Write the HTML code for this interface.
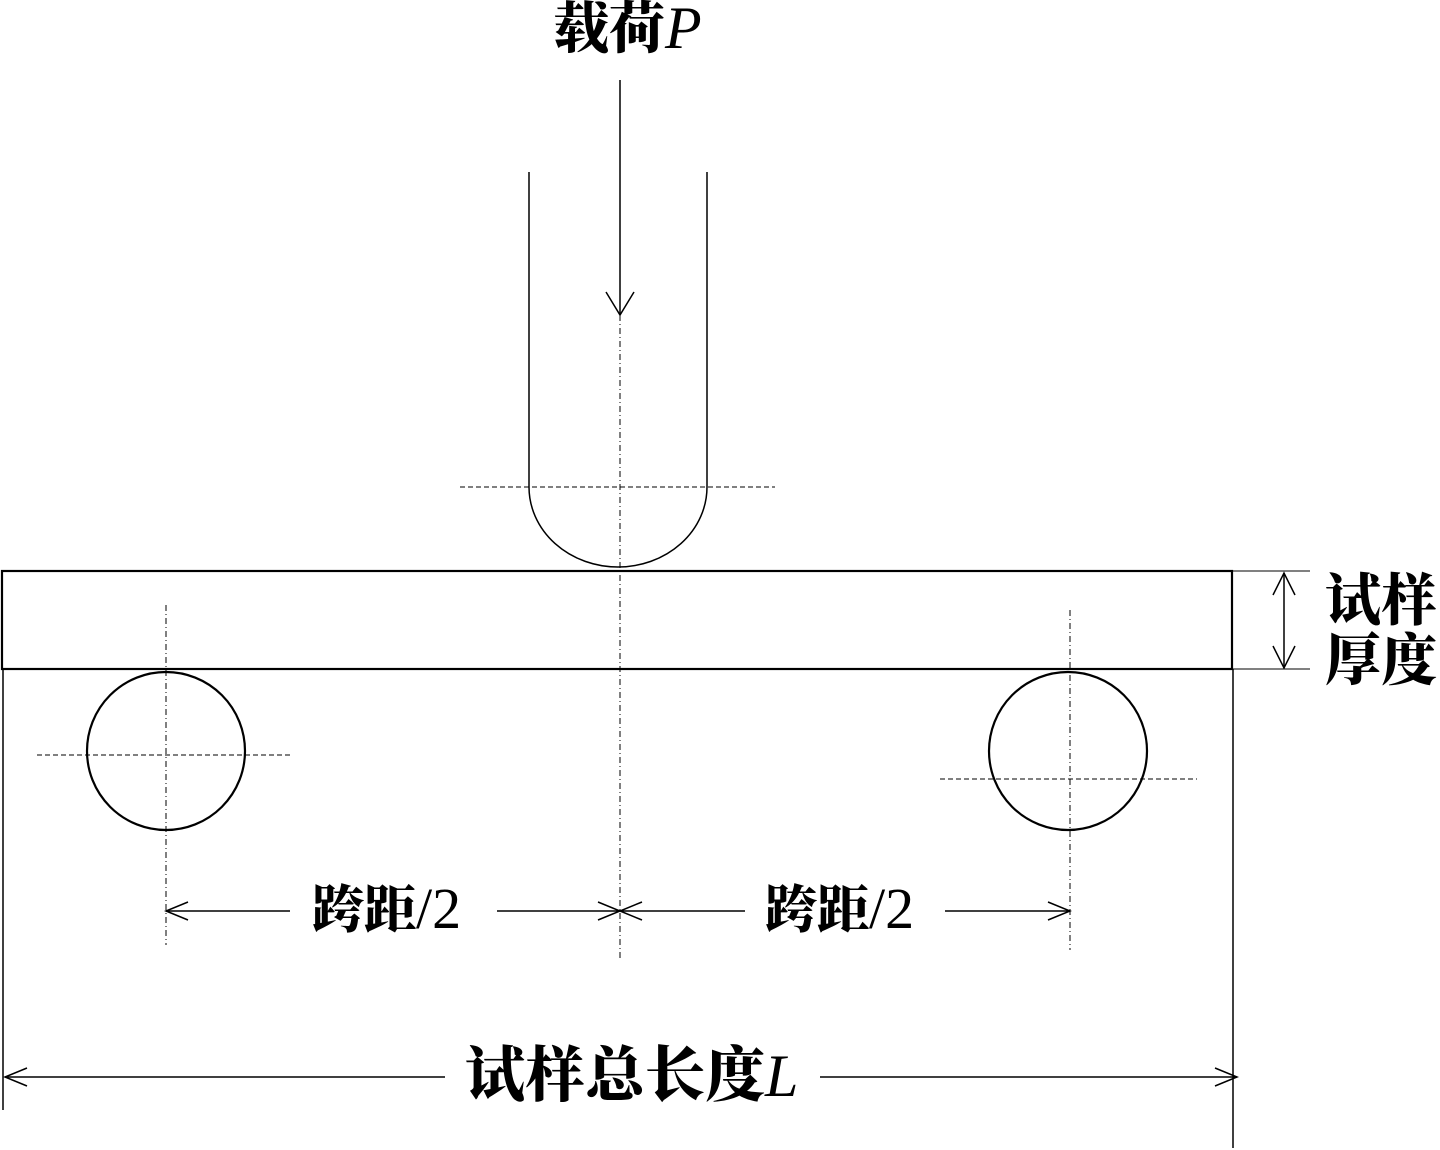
<!DOCTYPE html>
<html><head><meta charset="utf-8"><style>
html,body{margin:0;padding:0;background:#fff;}
svg{display:block;}
text{font-family:"Liberation Serif","Noto Serif CJK SC","Noto Sans CJK SC",serif;fill:#000;}
.c{font-family:"Noto Serif CJK SC","Noto Sans CJK SC",serif;font-weight:900;}
</style></head><body>
<svg width="1440" height="1150" viewBox="0 0 1440 1150" xmlns="http://www.w3.org/2000/svg">
<g stroke="#000" fill="none" stroke-width="1.5">
<line x1="620" y1="80" x2="620" y2="315"/>
<polyline points="606,292 620,315 634,292"/>
<line x1="620" y1="315" x2="620" y2="958" stroke-dasharray="6,3,1,3" stroke-width="1"/>
<path d="M529,172 L529,487 A89,80 0 0 0 707,487 L707,172"/>
<line x1="460" y1="487" x2="775" y2="487" stroke-dasharray="5,3" stroke-width="1"/>
<rect x="2" y="571" width="1230" height="98" stroke-width="2.2"/>
<line x1="3" y1="669" x2="3" y2="1110"/>
<line x1="1233" y1="669" x2="1233" y2="1148"/>
<circle cx="166" cy="751" r="79" stroke-width="2.2"/>
<circle cx="1068" cy="751" r="79" stroke-width="2.2"/>
<line x1="166" y1="605" x2="166" y2="945" stroke-dasharray="6,3,1,3" stroke-width="1"/>
<line x1="37" y1="755" x2="292" y2="755" stroke-dasharray="5,3" stroke-width="1"/>
<line x1="1070" y1="610" x2="1070" y2="950" stroke-dasharray="6,3,1,3" stroke-width="1"/>
<line x1="940" y1="779" x2="1197" y2="779" stroke-dasharray="5,3" stroke-width="1"/>
<line x1="166" y1="911" x2="290" y2="911"/>
<polyline points="188,902 166,911 188,920"/>
<line x1="497" y1="911" x2="745" y2="911"/>
<polyline points="598,902 620,911 598,920"/>
<polyline points="642,902 620,911 642,920"/>
<line x1="945" y1="911" x2="1070" y2="911"/>
<polyline points="1048,902 1070,911 1048,920"/>
<line x1="1232" y1="571" x2="1310" y2="571" stroke-width="1"/>
<line x1="1232" y1="669" x2="1310" y2="669" stroke-width="1"/>
<line x1="1284" y1="573" x2="1284" y2="668"/>
<polyline points="1273,595 1284,573 1295,595"/>
<polyline points="1273,646 1284,668 1295,646"/>
<line x1="5" y1="1077" x2="445" y2="1077"/>
<polyline points="27,1068 5,1077 27,1086"/>
<line x1="820" y1="1077" x2="1237" y2="1077"/>
<polyline points="1215,1068 1237,1077 1215,1086"/>
</g>
<text x="553" y="48" font-size="56"><tspan class="c">载荷</tspan><tspan font-style="italic" font-size="60">P</tspan></text>
<text x="312" y="928" font-size="52"><tspan class="c">跨距</tspan><tspan font-size="58">/2</tspan></text>
<text x="765" y="928" font-size="52"><tspan class="c">跨距</tspan><tspan font-size="58">/2</tspan></text>
<text x="1325" y="620" font-size="56" class="c">试样</text>
<text x="1325" y="680" font-size="56" class="c">厚度</text>
<text x="465" y="1096" font-size="60"><tspan class="c">试样总长度</tspan><tspan font-style="italic" font-size="60">L</tspan></text>
</svg>
</body></html>
